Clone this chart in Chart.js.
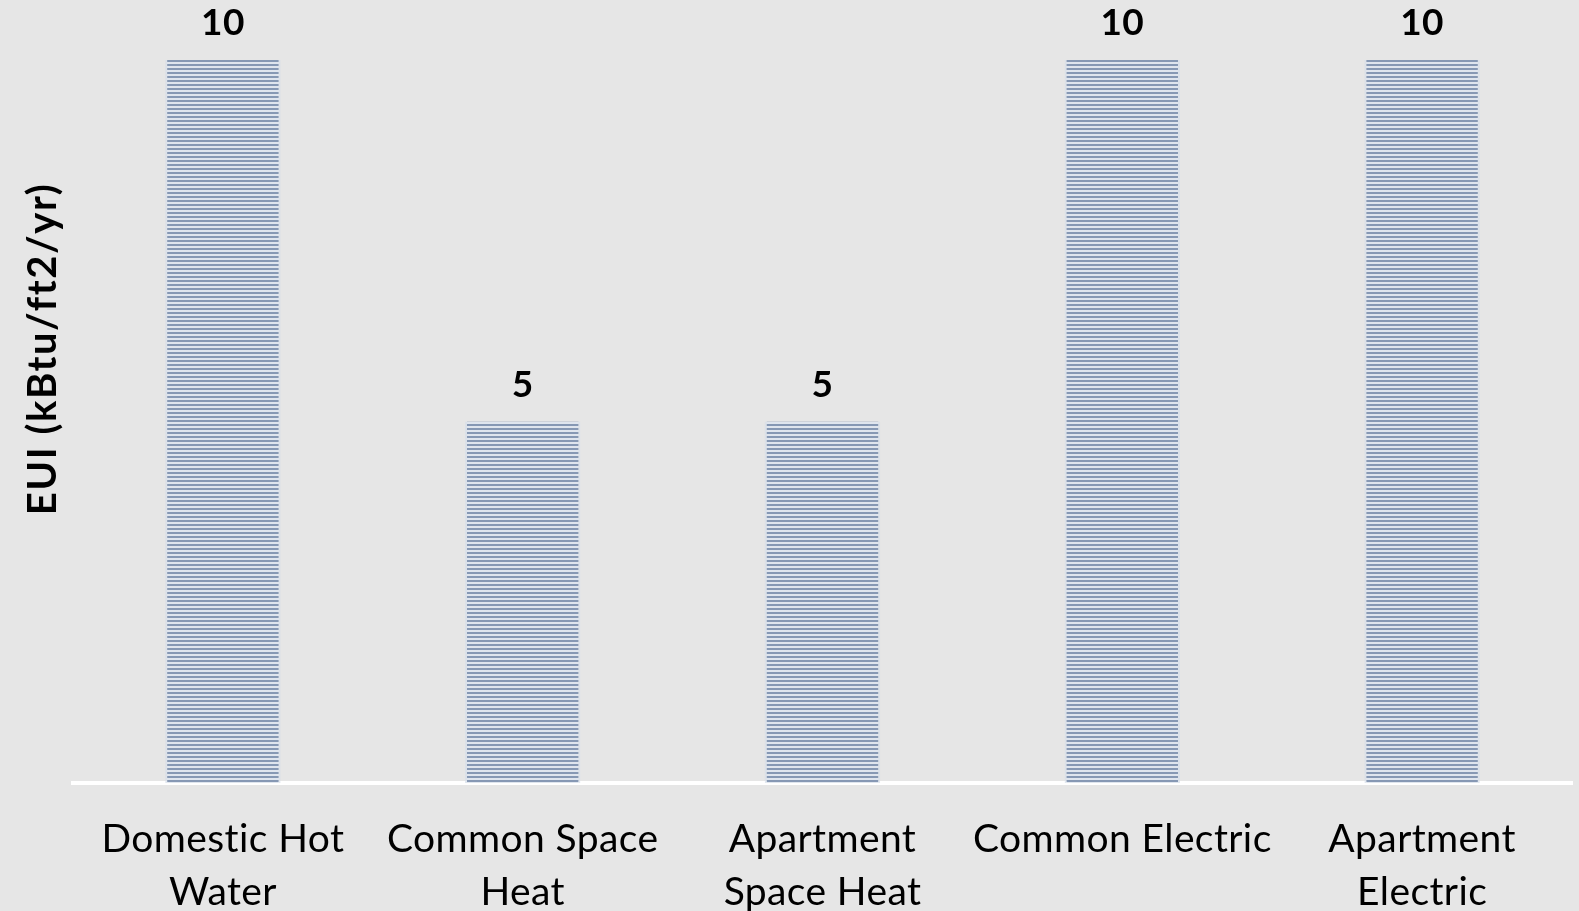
<!DOCTYPE html>
<html>
<head>
<meta charset="utf-8">
<script src="https://cdn.jsdelivr.net/npm/chart.js@4"></script>
<style>
  html, body { margin: 0; padding: 0; background: #e6e6e6; }
  #wrap { width: 1579px; height: 911px; position: relative; }
</style>
</head>
<body>
<div id="wrap"><canvas id="euiChart"></canvas></div>
<script>
const categories = [
  ['Domestic Hot', 'Water'],
  ['Common Space', 'Heat'],
  ['Apartment', 'Space Heat'],
  ['Common Electric'],
  ['Apartment', 'Electric']
];
const euiValues = [10, 5, 5, 10, 10];
const axisTitle = 'EUI (kBtu/ft2/yr)';

const FONT = 'Lato, "Open Sans", sans-serif';

// striped fill for the bars
function stripePattern() {
  const c = document.createElement('canvas');
  c.width = 8; c.height = 4;
  const g = c.getContext('2d');
  g.fillStyle = '#dfe5ee';
  g.fillRect(0, 0, 8, 4);
  g.fillStyle = '#8698b4';
  g.fillRect(0, 0, 8, 2);
  return g.createPattern(c, 'repeat');
}

// small letter spacing keeps Lato from joining "ti" into a ligature
const spacing = {
  id: 'spacing',
  beforeDraw(chart) { chart.ctx.letterSpacing = '0.4px'; }
};

// value labels above each bar
const valueLabels = {
  id: 'valueLabels',
  afterDatasetsDraw(chart) {
    const ctx = chart.ctx;
    const meta = chart.getDatasetMeta(0);
    ctx.save();
    ctx.font = 'bold 37px ' + FONT;
    ctx.fillStyle = '#000';
    ctx.textAlign = 'center';
    ctx.textBaseline = 'alphabetic';
    meta.data.forEach((bar, i) => {
      ctx.fillText(String(euiValues[i]), bar.x, bar.y - 25);
    });
    ctx.restore();
  }
};

// vertical axis title, centred a little above the plot's middle
const yTitle = {
  id: 'yTitle',
  afterDraw(chart) {
    const ctx = chart.ctx;
    ctx.save();
    ctx.translate(43, 349);
    ctx.rotate(-Math.PI / 2);
    ctx.letterSpacing = '1.6px';
    ctx.font = 'bold 40px ' + FONT;
    ctx.fillStyle = '#000';
    ctx.textAlign = 'center';
    ctx.textBaseline = 'middle';
    ctx.fillText(axisTitle, 0, 0);
    ctx.restore();
  }
};

const ctx = document.getElementById('euiChart').getContext('2d');
new Chart(ctx, {
  type: 'bar',
  data: {
    labels: categories,
    datasets: [{
      data: euiValues,
      backgroundColor: stripePattern(),
      borderColor: 'rgba(214,222,234,0.7)',
      borderWidth: { left: 2, right: 2, top: 0, bottom: 0 },
      borderSkipped: false,
      categoryPercentage: 1,
      barPercentage: 0.385
    }]
  },
  options: {
    responsive: true,
    maintainAspectRatio: false,
    animation: false,
    layout: { padding: { top: 60, left: 0, right: 7, bottom: 0 } },
    plugins: { legend: { display: false }, tooltip: { enabled: false } },
    scales: {
      x: {
        grid: { display: false, drawTicks: false },
        border: { display: true, color: '#ffffff', width: 4 },
        ticks: {
          color: '#000',
          font: { family: FONT, size: 39, lineHeight: 1.36 },
          padding: 30,
          maxRotation: 0,
          autoSkip: false
        },
        afterFit(scale) { scale.height = 128; }
      },
      y: {
        min: 0,
        max: 10,
        grid: { display: false, drawTicks: false },
        border: { display: false },
        ticks: { display: false },
        afterFit(scale) { scale.width = 73; }
      }
    }
  },
  plugins: [spacing, valueLabels, yTitle]
});
</script>
</body>
</html>
